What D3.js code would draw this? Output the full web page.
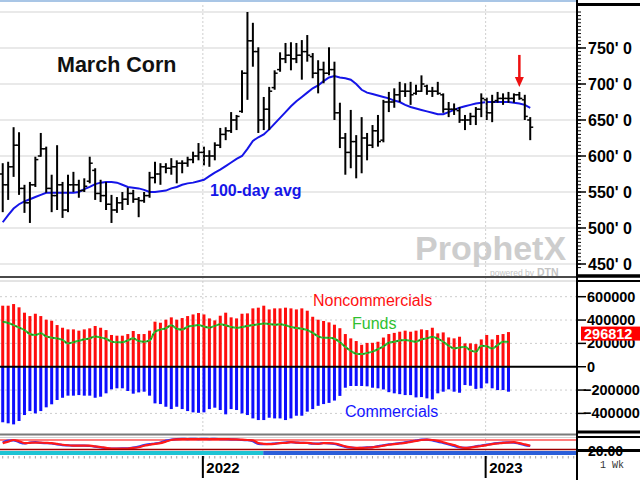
<!DOCTYPE html>
<html><head><meta charset="utf-8">
<script src="https://cdn.jsdelivr.net/npm/d3@7"></script>
<style>html,body{margin:0;padding:0;background:#fff;overflow:hidden}text{font-family:"Liberation Sans",Arial,sans-serif}</style>
</head><body>
<svg id="c" width="640" height="480"></svg>
<script>
// ---------- DATA (weekly bars, index 0 = oldest) ----------
const highs=[590,592,640,633,560,564,599,632,613,574,615,564,574,578,567,569,599,583,567,564,546,543,550,556,553,543,550,578,592,590,590,597,594,594,599,606,618,613,608,619,639,640,661,657,719,800,785,751,682,696,719,744,757,758,757,761,768,743,733,731,751,731,674,632,664,629,654,632,643,657,678,689,694,703,701,703,699,712,699,696,703,687,675,673,668,657,660,668,687,681,685,689,687,689,687,689,685,654];
const lows=[522,539,571,546,521,507,557,599,549,522,525,514,522,550,542,550,562,539,536,525,507,521,525,532,535,515,535,542,562,560,576,574,562,576,585,590,594,587,585,594,611,622,632,636,660,678,724,632,636,636,692,717,729,719,729,706,731,708,687,701,712,650,611,574,583,569,576,594,611,613,619,661,667,675,682,671,685,689,685,682,685,660,654,657,646,636,643,643,654,650,647,674,671,674,674,678,650,622];
const opens=[575,560,585,615,555,535,560,600,610,555,545,560,525,560,560,552,565,580,548,545,533,525,535,540,548,540,538,545,570,575,585,583,585,590,590,595,600,605,600,600,615,630,635,650,662,715,760,745,650,665,695,720,735,740,735,740,745,738,715,720,715,720,660,625,605,620,600,625,615,635,622,675,675,685,690,690,687,690,697,690,690,685,665,665,663,650,650,655,665,678,660,677,680,680,680,685,678,650];
const closes=[560,585,615,555,535,560,595,610,555,545,560,525,560,560,552,558,590,548,545,533,525,535,540,548,540,538,545,570,575,585,583,585,590,590,595,600,605,600,600,615,630,635,650,655,715,760,745,650,665,690,715,735,740,735,740,745,740,715,720,715,720,660,625,605,620,600,625,615,635,620,675,675,685,690,690,685,690,700,690,690,687,665,665,665,650,650,655,665,680,660,675,680,680,680,685,680,655,640];
const ma100=[508,518,527,533,537,540,543,546,549,549,549,549,549,549,550,554,557,561,563,564,564,563,560,557,556,555,553,550,550,551,552,555,557,560,562,563,565,567,572,577,581,586,591,596,600,610,621,626,630,637,645,653,661,669,676,682,688,694,698,704,709,711,709,708,706,700,692,688,686,684,682,680,677,675,671,668,666,664,662,660,658,658,661,664,667,669,671,673,674,675,675,675,675,675,674,673,671,667];
const nonCommercials=[523000,523000,537000,509000,463000,434000,454000,434000,403000,394000,357000,334000,320000,320000,309000,320000,329000,349000,334000,314000,272000,266000,266000,280000,306000,280000,280000,309000,386000,377000,403000,423000,403000,417000,434000,448000,460000,448000,414000,397000,437000,463000,423000,414000,454000,457000,500000,506000,523000,491000,500000,500000,506000,500000,491000,500000,480000,428000,403000,392000,380000,360000,330000,280000,243000,220000,188000,204000,205000,214000,250000,280000,290000,300000,309000,300000,309000,320000,314000,334000,286000,294000,251000,243000,257000,200000,200000,194000,234000,272000,234000,272000,280000,296812];
const commercials=[-476000,-485000,-494000,-465000,-414000,-380000,-400000,-380000,-348000,-322000,-285000,-266000,-248000,-248000,-243000,-248000,-248000,-266000,-257000,-228000,-194000,-185000,-185000,-208000,-231000,-220000,-214000,-248000,-314000,-320000,-343000,-363000,-343000,-363000,-380000,-391000,-395000,-391000,-363000,-351000,-371000,-408000,-363000,-371000,-400000,-414000,-443000,-457000,-457000,-437000,-443000,-443000,-457000,-443000,-420000,-420000,-385000,-363000,-335000,-320000,-310000,-290000,-250000,-180000,-165000,-165000,-165000,-168000,-180000,-185000,-195000,-218000,-228000,-235000,-243000,-243000,-263000,-260000,-271000,-280000,-228000,-214000,-194000,-214000,-223000,-157000,-163000,-190000,-185000,-143000,-185000,-200000,-200000,-214000];
const funds=[385000,375000,357000,335000,314000,280000,272000,286000,260000,249000,243000,230000,200000,210000,222000,235000,243000,260000,250000,240000,215000,209000,209000,225000,243000,220000,214000,225000,300000,318000,329000,355000,325000,318000,343000,350000,357000,345000,334000,350000,363000,355000,340000,334000,340000,350000,357000,363000,371000,366000,360000,363000,355000,340000,332000,325000,314000,290000,260000,248000,248000,240000,210000,170000,135000,112000,108000,118000,129000,150000,175000,205000,214000,225000,229000,222000,214000,235000,243000,257000,240000,214000,180000,157000,165000,171000,140000,129000,180000,175000,157000,185000,214000,214000];
const stochK=[64,76,78,66,58,64,66,62,60,58,52,48,46,44,44,45,42,38,33,28,25,26,27,28,32,38,48,54,58,64,76,82,86,87,86,87,86,88,86,87,86,85,84,83,80,79,72,56,54,55,58,61,64,66,63,62,61,57,57,61,59,55,46,37,32,29,31,33,35,41,47,52,56,60,65,71,77,82,83,78,70,61,52,42,33,30,34,40,45,51,56,60,63,65,64,56,48,42];
const stochD=[60,70,80,72,60,62,64,63,62,60,55,50,47,45,44,44,44,40,36,30,26,26,26,26,30,34,44,50,56,60,70,80,84,86,86,86,86,86,86,86,86,86,84,84,82,80,78,60,56,54,56,60,62,66,64,62,62,58,56,60,60,58,50,40,34,30,30,32,34,38,44,50,54,58,62,68,74,80,82,80,74,66,56,48,36,30,32,38,42,48,54,58,62,64,66,60,52,44];
const priceTicks=[450,500,550,600,650,700,750];
const cotTicks=[-400000,-200000,0,200000,400000,600000];
const stochLevels=[20,80];
const yearTicks=[{label:"2022",week:36.8},{label:"2023",week:88.8}];
const bandSegments=[{from:-0.5,to:47.9,color:"#1ec4d4"},{from:47.9,to:105.6,color:"#2c5fd9"}];
const arrowWeek=95;
const title="March Corn", maLabel="100-day avg";

// ---------- SCALES ----------
const svg=d3.select("#c");
const PR=577;
const x=d3.scaleLinear().domain([-0.5,105.6]).range([0,PR]);
const yP=d3.scaleLinear().domain([450,750]).range([264,48]);
const yC=d3.scaleLinear().domain([-400000,600000]).range([413.4,296.7]);
const yS=d3.scaleLinear().domain([20,80]).range([449.5,440]);

svg.append("rect").attr("width",640).attr("height",480).attr("fill","#fff");
svg.append("rect").attr("x",0).attr("y",0).attr("width",PR).attr("height",2).attr("fill","#a9c6e6");

// ---------- PRICE PANEL ----------
const gP=svg.append("g");
gP.selectAll(".pg").data(d3.range(450,801,50)).join("line")
 .attr("x1",0).attr("x2",PR).attr("y1",d=>yP(d)).attr("y2",d=>yP(d))
 .attr("stroke","#e2e2e2").attr("stroke-width",1.5);
yearTicks.forEach(t=>{
  svg.append("line").attr("x1",x(t.week)).attr("x2",x(t.week)).attr("y1",5).attr("y2",451)
   .attr("stroke","#cfcfcf").attr("stroke-dasharray","2,2");
});
// watermark
gP.append("text").attr("x",415).attr("y",260).attr("font-size",34).attr("font-weight","bold")
 .attr("fill","#cdcdcd").text("ProphetX");
gP.append("text").attr("x",490).attr("y",276).attr("font-size",8.5).attr("fill","#c4c4c4").text("powered by");
gP.append("text").attr("x",537).attr("y",276).attr("font-size",10.5).attr("font-weight","bold").attr("fill","#c4c4c4").text("DTN");

gP.append("path").datum(ma100)
 .attr("d",d3.line().x((d,i)=>x(i)).y(d=>yP(d)))
 .attr("fill","none").attr("stroke","#1515e8").attr("stroke-width",2);
const bars=gP.selectAll(".bar").data(highs.map((h,i)=>({i,h,l:lows[i],o:opens[i],c:closes[i]}))).join("g");
bars.append("line").attr("x1",d=>x(d.i)).attr("x2",d=>x(d.i)).attr("y1",d=>yP(d.h)).attr("y2",d=>yP(d.l))
 .attr("stroke","#000").attr("stroke-width",2);
bars.append("line").attr("x1",d=>x(d.i)-3).attr("x2",d=>x(d.i)).attr("y1",d=>yP(d.o)).attr("y2",d=>yP(d.o))
 .attr("stroke","#000").attr("stroke-width",1.5);
bars.append("line").attr("x1",d=>x(d.i)).attr("x2",d=>x(d.i)+3).attr("y1",d=>yP(d.c)).attr("y2",d=>yP(d.c))
 .attr("stroke","#000").attr("stroke-width",1.5);

gP.append("text").attr("x",57).attr("y",72).attr("font-size",21.5).attr("font-weight","bold").attr("fill","#111").text(title);
gP.append("text").attr("x",210).attr("y",196).attr("font-size",16).attr("font-weight","bold").attr("fill","#1515e8").text(maLabel);

const ax=x(arrowWeek), tipY=yP(highs[arrowWeek])-5;
svg.append("line").attr("x1",ax).attr("x2",ax).attr("y1",tipY-32).attr("y2",tipY-8).attr("stroke","#ee1111").attr("stroke-width",2.5);
svg.append("path").attr("d",`M${ax-4.5},${tipY-10}L${ax+4.5},${tipY-10}L${ax},${tipY}Z`).attr("fill","#ee1111");

svg.append("line").attr("x1",0).attr("x2",PR).attr("y1",277).attr("y2",277).attr("stroke","#4a4a4a").attr("stroke-width",2);
svg.append("line").attr("x1",0).attr("x2",PR).attr("y1",281).attr("y2",281).attr("stroke","#c8c8c8").attr("stroke-width",1);

// ---------- COT PANEL ----------
const gC=svg.append("g");
gC.selectAll(".cg").data(cotTicks.filter(d=>d!==0)).join("line")
 .attr("x1",0).attr("x2",PR).attr("y1",d=>yC(d)).attr("y2",d=>yC(d))
 .attr("stroke","#cccccc").attr("stroke-dasharray","2,3");
gC.selectAll(".nc").data(nonCommercials).join("rect")
 .attr("x",(d,i)=>x(i)-1.5).attr("width",3).attr("y",d=>yC(d)).attr("height",d=>yC(0)-yC(d)).attr("fill","#ff0d0d");
gC.selectAll(".cm").data(commercials).join("rect")
 .attr("x",(d,i)=>x(i)-1.5).attr("width",3).attr("y",yC(0)).attr("height",d=>yC(d)-yC(0)).attr("fill","#0d0dff");
gC.append("path").datum(funds).attr("d",d3.line().x((d,i)=>x(i)).y(d=>yC(d)).curve(d3.curveMonotoneX))
 .attr("fill","none").attr("stroke","#33c433").attr("stroke-width",2);
gC.append("path").datum(funds).attr("d",d3.line().x((d,i)=>x(i)).y(d=>yC(d)).curve(d3.curveMonotoneX))
 .attr("fill","none").attr("stroke","#1a7a1a").attr("stroke-width",1.5).attr("stroke-dasharray","1.5,3");
gC.append("line").attr("x1",0).attr("x2",PR).attr("y1",yC(0)).attr("y2",yC(0)).attr("stroke","#000").attr("stroke-width",2);
gC.append("text").attr("x",313).attr("y",306).attr("font-size",16).attr("fill","#ff1010").text("Noncommercials");
gC.append("text").attr("x",352).attr("y",329).attr("font-size",16).attr("fill","#2fbf2f").text("Funds");
gC.append("text").attr("x",345).attr("y",417).attr("font-size",16).attr("fill","#1515ff").text("Commercials");

svg.append("line").attr("x1",0).attr("x2",PR).attr("y1",434.5).attr("y2",434.5).attr("stroke","#7a7a7a").attr("stroke-width",2);
svg.append("line").attr("x1",0).attr("x2",PR).attr("y1",437.5).attr("y2",437.5).attr("stroke","#d0d0d0").attr("stroke-width",1);

// ---------- STOCH PANEL ----------
svg.append("line").attr("x1",0).attr("x2",PR).attr("y1",yS(stochLevels[1])).attr("y2",yS(stochLevels[1])).attr("stroke","#ff5050").attr("stroke-width",1.5);
svg.append("path").datum(stochK).attr("d",d3.line().x((d,i)=>x(i)).y(d=>yS(d)).curve(d3.curveMonotoneX))
 .attr("fill","none").attr("stroke","#2a3cff").attr("stroke-width",2.2);
svg.append("path").datum(stochD).attr("d",d3.line().x((d,i)=>x(i)).y(d=>yS(d)).curve(d3.curveMonotoneX))
 .attr("fill","none").attr("stroke","#ff1a1a").attr("stroke-width",2.2);
svg.append("line").attr("x1",0).attr("x2",PR).attr("y1",yS(stochLevels[0])).attr("y2",yS(stochLevels[0])).attr("stroke","#9a0000").attr("stroke-width",1.5);
bandSegments.forEach(s=>{
  svg.append("rect").attr("x",x(s.from)).attr("width",Math.min(x(s.to),PR)-x(s.from)).attr("y",451).attr("height",4).attr("fill",s.color);
});

// ---------- X AXIS STRIP ----------
svg.selectAll(".wt").data(d3.range(0,106)).join("line")
 .attr("x1",d=>x(d)).attr("x2",d=>x(d)).attr("y1",456).attr("y2",458.5).attr("stroke","#a0a0a0").attr("stroke-width",1);
yearTicks.forEach(t=>{
  svg.append("line").attr("x1",x(t.week)).attr("x2",x(t.week)).attr("y1",456).attr("y2",478).attr("stroke","#000").attr("stroke-width",2);
  svg.append("text").attr("x",x(t.week)+3.5).attr("y",473).attr("font-size",15).attr("font-weight","bold").attr("fill","#000").text(t.label);
});

// ---------- RIGHT AXIS ----------
const gR=svg.append("g");
gR.append("rect").attr("x",PR).attr("y",0).attr("width",640-PR).attr("height",480).attr("fill","#fff");
gR.selectAll(".mt").data(d3.range(445,801,5)).join("line")
 .attr("x1",PR).attr("x2",PR+4).attr("y1",d=>yP(d)).attr("y2",d=>yP(d)).attr("stroke","#000").attr("stroke-width",1);
gR.selectAll(".pt").data(priceTicks).join("line")
 .attr("x1",PR).attr("x2",PR+9).attr("y1",d=>yP(d)).attr("y2",d=>yP(d)).attr("stroke","#000").attr("stroke-width",1.5);
gR.selectAll(".pl").data(priceTicks).join("text")
 .attr("x",588).attr("y",d=>yP(d)+6).attr("font-size",16).attr("font-weight","bold").attr("fill","#000")
 .text(d=>`${d}' 0`);
gR.selectAll(".ct").data(cotTicks).join("line")
 .attr("x1",PR).attr("x2",PR+9).attr("y1",d=>yC(d)).attr("y2",d=>yC(d)).attr("stroke","#000").attr("stroke-width",1.5);
gR.selectAll(".cl").data(cotTicks).join("text")
 .attr("x",d=>d<0?583:587).attr("y",d=>yC(d)+5).attr("font-size",14.5).attr("font-weight","bold").attr("fill","#000")
 .text(d=>d3.format("d")(d));
const lastVal=nonCommercials[nonCommercials.length-1];
gR.append("rect").attr("x",581).attr("y",yC(lastVal)-5.5).attr("width",59).attr("height",14).attr("fill","#ff0000");
gR.append("text").attr("x",584).attr("y",yC(lastVal)+6.5).attr("font-size",14.5).attr("font-weight","bold").attr("fill","#fff").text(d3.format("d")(lastVal));
gR.append("text").attr("x",588).attr("y",455.5).attr("font-size",14).attr("font-weight","bold").attr("fill","#000").text(d3.format(".2f")(stochLevels[0]));
gR.append("text").attr("x",600).attr("y",468).attr("font-size",10).attr("fill","#333").style("font-family","'Liberation Mono',monospace").text("1 Wk");
[[4.5,3],[276,3.5],[281,2],[432,3],[437,2],[450.5,3]].forEach(([y,w])=>{
  gR.append("line").attr("x1",PR).attr("x2",640).attr("y1",y).attr("y2",y).attr("stroke","#000").attr("stroke-width",w);
});
gR.append("line").attr("x1",PR).attr("x2",PR).attr("y1",0).attr("y2",480).attr("stroke","#000").attr("stroke-width",2);
</script>
</body></html>
